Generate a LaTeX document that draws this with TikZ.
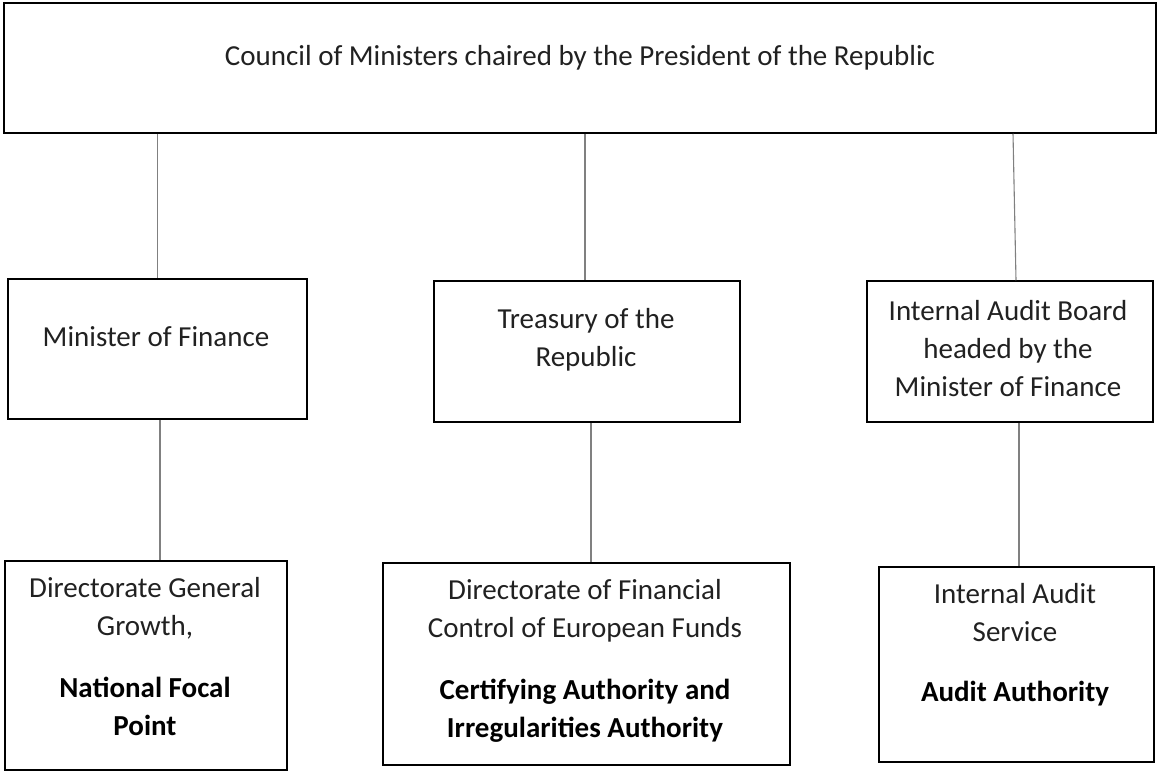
\documentclass[tikz,border=0pt]{standalone}
\usepackage{fontspec}
\setmainfont{Carlito}
\usepackage{tikz}
\usetikzlibrary{positioning,calc}
\usepackage{xcolor}
\definecolor{inkgray}{gray}{0.13}
\definecolor{linkgray}{gray}{0.5}

\tikzset{
  orgbox/.style={draw=black, line width=1.5pt, inner sep=0pt},
  boxtext/.style={inner sep=0pt, align=center, text=inkgray,
    font=\fontsize{29}{38}\selectfont, anchor=base},
  link/.style={draw=linkgray, line width=1.1pt}
}

\begin{document}
\begin{tikzpicture}[x=1pt,y=-1pt]
  \useasboundingbox (0,0) rectangle (1158,771);

  % The boxes
  \node[orgbox, minimum width=1152pt, minimum height=130pt] (council) at (580,68) {};
  \node[orgbox, minimum width=299pt, minimum height=140pt] (mof) at (157.5,349) {};
  \node[orgbox, minimum width=306pt, minimum height=141pt] (treasury) at (587,351.5) {};
  \node[orgbox, minimum width=286pt, minimum height=141pt] (iab) at (1010,351.5) {};
  \node[orgbox, minimum width=282pt, minimum height=209pt] (dgg) at (146,665.5) {};
  \node[orgbox, minimum width=407pt, minimum height=202pt] (dfc) at (586.5,664) {};
  \node[orgbox, minimum width=275pt, minimum height=195pt] (ias) at (1016.5,664.5) {};

  % Texts, placed by the baseline of their last line
  \node[boxtext] (councilT) at ($(council.north)+(0,63)$)
    {Council of Ministers chaired by the President of the Republic};
  \node[boxtext] (mofT) at ($(mof.north)+(-1.5,68)$) {Minister of Finance};
  \node[boxtext] (treasuryT) at ($(treasury.north)+(-1,86)$)
    {Treasury of the\\Republic};
  \node[boxtext] (iabT) at ($(iab.north)+(-2,116)$)
    {Internal Audit Board\\headed by the\\Minister of Finance};
  \node[boxtext] (dggT) at ($(dgg.north)+(-1,175)$)
    {Directorate General\\Growth,\\[24pt]\textbf{\color{black}National Focal}\\\textbf{\color{black}Point}};
  \node[boxtext] (dfcT) at ($(dfc.north)+(-1.5,175)$)
    {Directorate of Financial\\Control of European Funds\\[24pt]\textbf{\color{black}Certifying Authority and}\\\textbf{\color{black}Irregularities Authority}};
  \node[boxtext] (iasT) at ($(ias.north)+(-1.5,135)$)
    {Internal Audit\\Service\\[22pt]\textbf{\color{black}Audit Authority}};

  % Connectors
  \draw[link] (mof.north |- council.south) -- (mof.north);
  \draw[link] ([xshift=-2pt]treasury.north |- council.south) -- ([xshift=-2pt]treasury.north);
  \draw[link] ([xshift=3pt]iab.north |- council.south) -- ([xshift=6pt]iab.north);
  \draw[link] ([xshift=2.5pt]mof.south) -- ([xshift=2.5pt]mof.south |- dgg.north);
  \draw[link] ([xshift=4pt]treasury.south) -- ([xshift=4pt]treasury.south |- dfc.north);
  \draw[link] ([xshift=9pt]iab.south) -- ([xshift=9pt]iab.south |- ias.north);
\end{tikzpicture}
\end{document}
